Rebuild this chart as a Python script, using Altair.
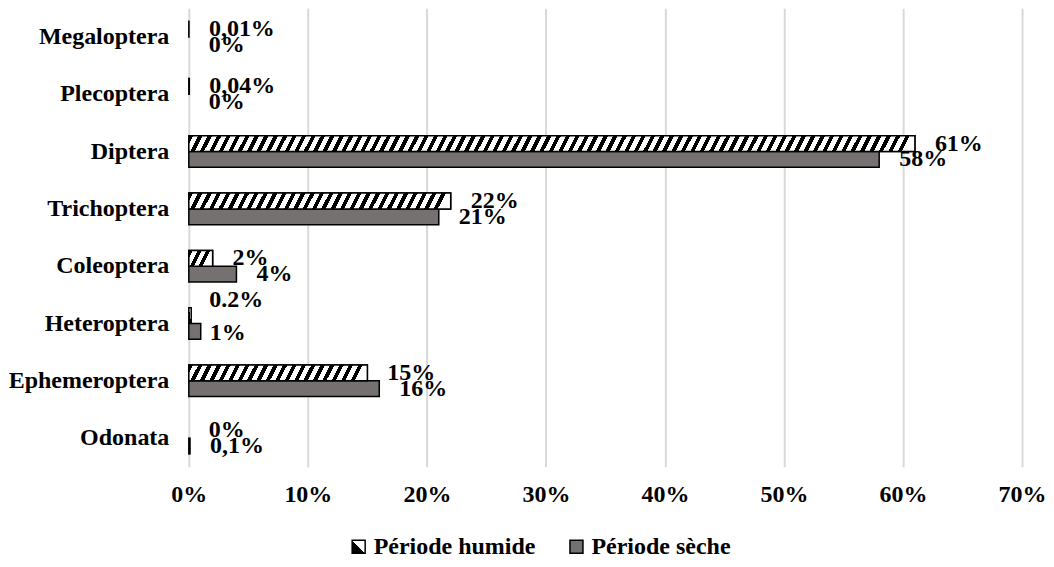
import altair as alt
import pandas as pd

categories = ["Megaloptera", "Plecoptera", "Diptera", "Trichoptera",
              "Coleoptera", "Heteroptera", "Ephemeroptera", "Odonata"]
periods = ["Période humide", "Période sèche"]
humide = [0.01, 0.04, 61, 22, 2, 0.2, 15, 0]
seche = [0, 0, 58, 21, 4, 1, 16, 0.1]
labels_humide = ["0,01%", "0,04%", "61%", "22%", "2%", "0.2%", "15%", "0%"]
labels_seche = ["0%", "0%", "58%", "21%", "4%", "1%", "16%", "0,1%"]
x_ticks = [0, 10, 20, 30, 40, 50, 60, 70]

rows = []
for c, h, s, lh, ls in zip(categories, humide, seche, labels_humide, labels_seche):
    rows.append(dict(cat=c, period=periods[0], value=h, label=lh))
    rows.append(dict(cat=c, period=periods[1], value=s, label=ls))
df = pd.DataFrame(rows)

W, H = 834, 459
FONT = "Liberation Serif"
FS = 24
PX_PER = W / 70.0


def stripes(v):
    w = v * PX_PER
    n = max(1, round(w / 9.5))
    k = 8.0 / w
    stops = []
    for i in range(n):
        a, b, c = i / n, (i + 0.45) / n, (i + 1) / n
        stops += [{"offset": a, "color": "black"}, {"offset": b, "color": "black"},
                  {"offset": b, "color": "white"}, {"offset": c, "color": "white"}]
    return {"gradient": "linear", "x1": 0, "y1": 0, "x2": 1, "y2": k, "stops": stops}


legend_pattern = ("{gradient: 'linear', x1: 1, y1: 0, x2: 0, y2: 1, stops: ["
                  "{offset: 0, color: 'white'}, {offset: 0.5, color: 'white'}, "
                  "{offset: 0.5, color: 'black'}, {offset: 1, color: 'black'}]}")

xenc = alt.X("value:Q", scale=alt.Scale(domain=[0, 70], nice=False),
             axis=alt.Axis(values=x_ticks, labelExpr="datum.value + '%'", title=None,
                           grid=True, gridColor="#d9d9d9", gridWidth=2, domain=False,
                           ticks=False, labelPadding=16, labelFont=FONT, labelFontSize=FS,
                           labelFontWeight="bold", labelColor="black", labelFlush=False))

base = alt.Chart(df).encode(
    y=alt.Y("cat:N", sort=categories, title=None,
            scale=alt.Scale(paddingInner=0.45, paddingOuter=0.225),
            axis=alt.Axis(labelFont=FONT, labelFontSize=FS, labelFontWeight="bold",
                          labelColor="black", labelPadding=20, ticks=False, domain=False,
                          grid=False, minExtent=179, maxExtent=179, labelLimit=300)),
    yOffset=alt.YOffset("period:N", sort=periods,
                        scale=alt.Scale(paddingInner=0, paddingOuter=0)),
)

bars = base.transform_filter("datum.value > 0").mark_bar(
    stroke="black", strokeWidth=1.5).encode(
    x=xenc,
    fill=alt.Fill("period:N",
                  scale=alt.Scale(domain=periods,
                                  range=[alt.ExprRef(expr=legend_pattern), "#767171"]),
                  legend=alt.Legend(title=None, orient="none", legendX=158, legendY=527,
                                    direction="horizontal", symbolType="square",
                                    symbolSize=169, symbolStrokeColor="black",
                                    symbolStrokeWidth=1.5, labelFont=FONT, labelFontSize=FS,
                                    labelFontWeight="bold", labelColor="black",
                                    labelLimit=400, columnPadding=29, labelOffset=3)),
)

layers = [bars]
for c, h in zip(categories, humide):
    if h >= 1:
        layers.append(
            base.transform_filter(
                f"datum.cat == '{c}' && datum.period == '{periods[0]}'"
            ).mark_bar(stroke="black", strokeWidth=1.5, fill=stripes(h)).encode(x=xenc)
        )

txt_style = dict(align="left", baseline="middle", font=FONT, fontSize=FS,
                 fontWeight="bold", color="black")
text = base.transform_filter("datum.cat != 'Heteroptera'").mark_text(
    dx=20, **txt_style).encode(x=xenc, text="label:N")
text_het_h = base.transform_filter(
    f"datum.cat == 'Heteroptera' && datum.period == '{periods[0]}'"
).mark_text(dx=18, dy=-16, **txt_style).encode(x=xenc, text="label:N")
text_het_s = base.transform_filter(
    f"datum.cat == 'Heteroptera' && datum.period == '{periods[1]}'"
).mark_text(dx=9, dy=2, **txt_style).encode(x=xenc, text="label:N")
layers += [text, text_het_h, text_het_s]

chart = alt.layer(*layers).properties(width=W, height=H, padding=0).configure_view(stroke=None)

chart.save("out.html", embed_options={"renderer": "svg", "actions": False})
